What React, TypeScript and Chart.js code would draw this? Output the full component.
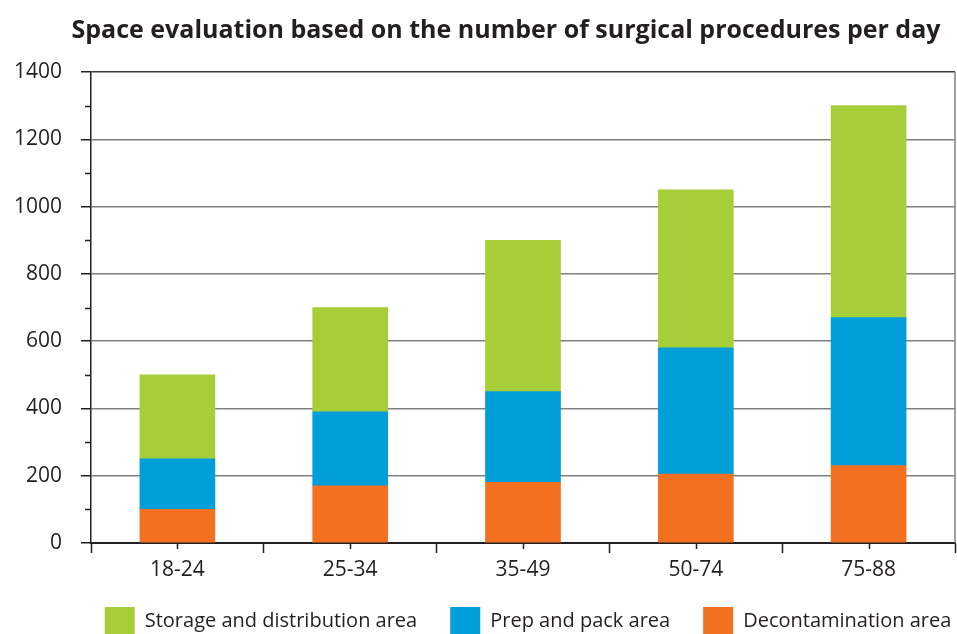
import { useEffect, useRef } from 'react';
import { Chart, registerables } from 'chart.js';

Chart.register(...registerables);

const titleText = 'Space evaluation based on the number of surgical procedures per day';
const categories = ['18-24', '25-34', '35-49', '50-74', '75-88'];
const decontamination = [100, 170, 180, 205, 230];
const prepAndPack = [150, 220, 270, 375, 440];
const storage = [250, 310, 450, 470, 630];
const seriesNames = ['Decontamination area', 'Prep and pack area', 'Storage and distribution area'];
const seriesColors = ['#f37021', '#009fda', '#a6ce39'];
const yMin = 0;
const yMax = 1400;
const yStep = 200;
const yMinorStep = 100;

const INK = '#231f20';
const FONT = '"Open Sans", Lato, sans-serif';

const decorPlugin = {
  id: 'decor',
  afterLayout(chart: any) {
    const ca = chart.chartArea;
    if (chart.legend) {
      chart.legend.left = ca.left - 190;
      chart.legend.right = ca.right + 200;
    }
    if (chart.titleBlock) {
      chart.titleBlock.left = 57;
    }
    // let x tick labels extend past the shortened axis box (avoid clipping)
    if (chart.scales.x) {
      chart.scales.x.bottom = chart.height;
    }
  },
  afterDraw(chart: any) {
    const ctx = chart.ctx;
    const ca = chart.chartArea;
    const y = chart.scales.y;
    const x = chart.scales.x;
    ctx.save();
    ctx.strokeStyle = '#808080';
    ctx.lineWidth = 1.5;
    ctx.beginPath();
    ctx.moveTo(ca.right, ca.top);
    ctx.lineTo(ca.right, ca.bottom);
    ctx.stroke();
    ctx.strokeStyle = INK;
    ctx.lineWidth = 1.5;
    for (let v = yMin + yMinorStep; v < yMax; v += yStep) {
      const py = Math.round(y.getPixelForValue(v)) + 0.5;
      ctx.beginPath();
      ctx.moveTo(ca.left - 6, py);
      ctx.lineTo(ca.left, py);
      ctx.stroke();
    }
    categories.forEach((_, i) => {
      const px = Math.round(x.getPixelForValue(i)) + 0.5;
      ctx.beginPath();
      ctx.moveTo(px, ca.bottom);
      ctx.lineTo(px, ca.bottom + 6);
      ctx.stroke();
    });
    ctx.restore();
  },
};

export default function App() {
  const ref = useRef<HTMLCanvasElement | null>(null);
  useEffect(() => {
    document.body.style.margin = '0';
    const canvas = ref.current;
    if (!canvas) return;
    const chart = new Chart(canvas, {
      type: 'bar',
      data: {
        labels: categories,
        datasets: [decontamination, prepAndPack, storage].map((d, i) => ({
          label: seriesNames[i],
          data: d,
          backgroundColor: seriesColors[i],
          borderWidth: 0,
          barThickness: 75,
          stack: 's',
        })),
      },
      options: {
        animation: false,
        responsive: false,
        maintainAspectRatio: false,
        layout: { padding: { top: 0, right: 2, bottom: 0, left: 0 } },
        plugins: {
          tooltip: { enabled: false },
          title: {
            display: true,
            text: titleText,
            color: INK,
            font: { family: FONT, size: 25, weight: 'bold' },
            padding: { top: 16, bottom: 26 },
          },
          legend: {
            position: 'bottom',
            reverse: true,
            labels: {
              boxWidth: 30,
              boxHeight: 28,
              color: INK,
              font: { family: FONT, size: 20 },
              padding: 33,
            },
          },
        },
        scales: {
          x: {
            stacked: true,
            offset: true,
            grid: {
              offset: true,
              drawOnChartArea: false,
              drawTicks: true,
              tickLength: 10,
              tickColor: INK,
              tickWidth: 1.5,
            },
            border: { display: true, color: INK, width: 2 },
            ticks: { color: INK, font: { family: FONT, size: 21 }, padding: 4 },
            afterFit(scale: any) {
              scale.height = 31;
            },
          },
          y: {
            stacked: true,
            min: yMin,
            max: yMax,
            ticks: {
              stepSize: yStep,
              color: INK,
              font: { family: FONT, size: 21 },
              padding: 19,
              callback: (v: any) => String(v),
            },
            grid: {
              color: (c: any) => (c.tick && c.tick.value === yMax ? '#3a3a3a' : '#808080'),
              lineWidth: 1.5,
              tickLength: 10,
              tickColor: INK,
              tickWidth: 1.5,
            },
            border: { display: true, color: INK, width: 1.5 },
            afterFit(scale: any) {
              scale.width = 91;
            },
          },
        },
      },
      plugins: [decorPlugin],
    });
    return () => chart.destroy();
  }, []);
  return (
    <div style={{ width: 957, height: 634, overflow: 'hidden', background: '#fff' }}>
      <canvas ref={ref} width={957} height={645} style={{ display: 'block' }} />
    </div>
  );
}
